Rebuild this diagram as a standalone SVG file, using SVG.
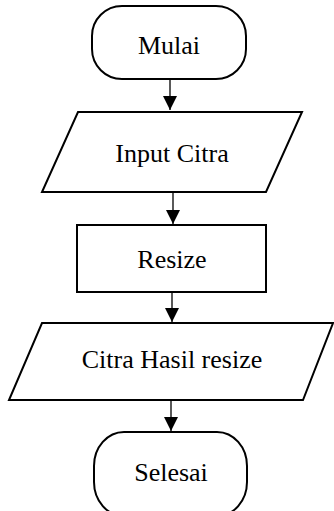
<svg xmlns="http://www.w3.org/2000/svg" width="334" height="511" viewBox="0 0 334 511">
  <defs>
    <style>
      .shape { fill: #ffffff; stroke: #000000; stroke-width: 2; }
      .label { font-family: "Liberation Serif", "Times New Roman", serif; font-size: 26px; fill: #000000; text-anchor: middle; }
      .flow { stroke: #000000; stroke-width: 1.3; fill: none; marker-end: url(#head); }
    </style>
    <marker id="head" markerWidth="14" markerHeight="14" viewBox="0 0 14 14" refX="14" refY="7" orient="auto" markerUnits="userSpaceOnUse">
      <path d="M0,0 L14,7 L0,14 Z" fill="#000000"/>
    </marker>
  </defs>
  <rect width="334" height="511" fill="#ffffff"/>

  <g id="connectors">
    <line class="flow" x1="170" y1="79" x2="170" y2="110"/>
    <line class="flow" x1="173" y1="192" x2="173" y2="224"/>
    <line class="flow" x1="172" y1="292" x2="172" y2="322"/>
    <line class="flow" x1="171" y1="400" x2="171" y2="431"/>
  </g>

  <g id="start">
    <rect class="shape" x="92" y="6" width="154" height="73" rx="30" ry="30"/>
    <text class="label" x="169" y="54">Mulai</text>
  </g>

  <g id="input">
    <polygon class="shape" points="78,112 302,112 266,192 42,192"/>
    <text class="label" x="172" y="162">Input Citra</text>
  </g>

  <g id="resize">
    <rect class="shape" x="77" y="225" width="189" height="67"/>
    <text class="label" x="172" y="268">Resize</text>
  </g>

  <g id="output">
    <polygon class="shape" points="42,323 333,323 303,400 9,400"/>
    <text class="label" x="172" y="368">Citra Hasil resize</text>
  </g>

  <g id="end">
    <rect class="shape" x="94" y="432" width="153" height="84" rx="30" ry="34"/>
    <text class="label" x="171" y="481">Selesai</text>
  </g>
</svg>
